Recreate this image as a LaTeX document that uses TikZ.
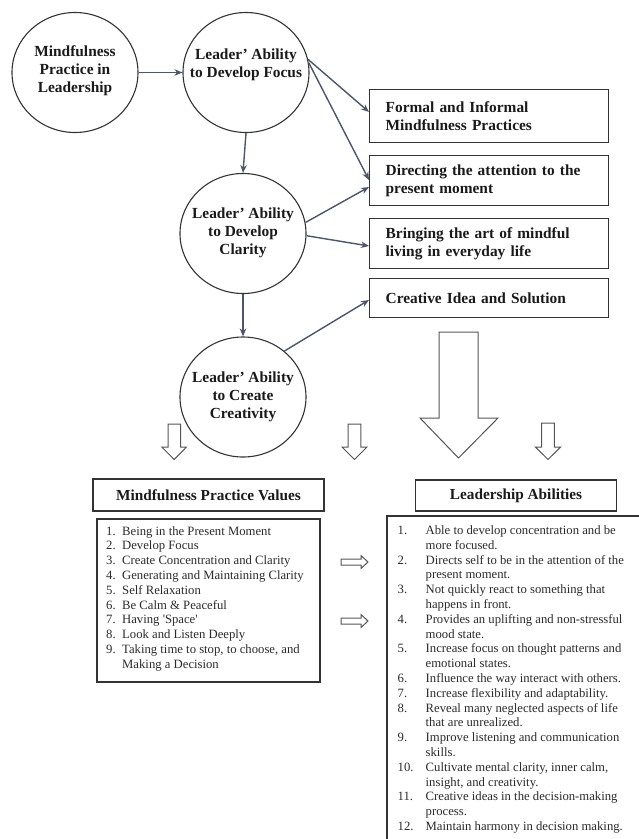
\documentclass[tikz,border=0pt]{standalone}
\usepackage{fontspec}
\setmainfont{Liberation Serif}
\usetikzlibrary{arrows.meta,shapes.geometric,calc}

\definecolor{linkc}{HTML}{4B566B}
\definecolor{edgec}{HTML}{333333}
\definecolor{blockc}{HTML}{555555}
\definecolor{txtc}{HTML}{1A1A1A}
\definecolor{listc}{HTML}{2B2B2B}

\tikzset{
  bubble/.style={ellipse, draw=edgec, line width=1.1pt, minimum width=126pt, minimum height=120pt, inner sep=0pt},
  bubbletext/.style={font=\fontsize{15.4}{18}\selectfont\bfseries, align=center, text=txtc, inner sep=0pt},
  infobox/.style={draw=edgec, line width=1.3pt, anchor=north west, text width=207pt, inner xsep=16pt, inner ysep=0pt,
    align=left, font=\fontsize{15.4}{17.7}\selectfont\bfseries, text=txtc},
  titlebox/.style={draw=edgec, line width=1.3pt, inner sep=0pt, font=\fontsize{15.3}{18}\selectfont\bfseries, text=txtc},
  listbox/.style={draw=edgec, line width=1.1pt},
  listtext/.style={anchor=base west, inner sep=0pt, text=listc, font=\fontsize{12.7}{14.8}\selectfont},
  link/.style={draw=linkc, line width=1.4pt, -{Stealth[length=8pt,width=6.5pt]}},
  blockarrow/.style={draw=blockc, line width=1pt, fill=white, line join=miter},
}

\begin{document}
\begin{tikzpicture}[x=1pt, y=-1pt]
\useasboundingbox (0,0) rectangle (639,839);
\fill[white] (0,0) rectangle (639,839);

% circles
\node[bubble] (c1) at (75,72.5) {};
\node[bubbletext] (c1t) at (75,71) {Mindfulness\\Practice in\\Leadership};
\node[bubble] (c2) at (246,72.5) {};
\node[bubbletext] (c2t) at (246,65) {Leader' Ability\\to Develop Focus};
\node[bubble] (c3) at (243,233.5) {};
\node[bubbletext] (c3t) at (243,233) {Leader' Ability\\to Develop\\Clarity};
\node[bubble] (c4) at (243,397) {};
\node[bubbletext] (c4t) at (243,397) {Leader' Ability\\to Create\\Creativity};

% right boxes
\node[infobox, minimum height=53pt] (b1) at (369,89) {Formal and Informal\\Mindfulness Practices};
\node[infobox, minimum height=50pt] (b2) at (369,155) {Directing the attention to the\\present moment};
\node[infobox, minimum height=50pt] (b3) at (369,218) {Bringing the art of mindful\\living in everyday life};
\node[infobox, minimum height=39pt] (b4) at (369,278) {Creative Idea and Solution};

% connectors
\draw[link] (c1.east) -- (c2.west);
\draw[link] (c2.south) -- (c3.north);
\draw[link] (c3.south) -- (c4.north);
\draw[link] (c2.12) -- (b1.west |- 0,112);
\draw[link] (c2.9) -- (b2.west |- 0,180);
\draw[link] (c3.10) -- (b2.west |- 0,187);
\draw[link] (c3.-2) -- (b3.west |- 0,246);
\draw[link] (c4.48) -- (b4.west |- 0,300);

% block arrows
\draw[blockarrow] (439,332) -- (478,332) -- (478,418) -- (498,418) -- (458.5,458) -- (420,418) -- (439,418) -- cycle;
\draw[blockarrow] (168,424) -- (180.5,424) -- (180.5,447) -- (186.5,447) -- (174.2,459.5) -- (161.8,447) -- (168,447) -- cycle;
\draw[blockarrow] (348.2,424) -- (360.8,424) -- (360.8,447) -- (367,447) -- (354.5,459.5) -- (342,447) -- (348.2,447) -- cycle;
\draw[blockarrow] (541.7,423) -- (554.3,423) -- (554.3,447) -- (560.6,447) -- (548,459.5) -- (535.4,447) -- (541.7,447) -- cycle;
\draw[blockarrow] (341,559) -- (361,559) -- (361,555.5) -- (368,562) -- (361,568.5) -- (361,565) -- (341,565) -- cycle;
\draw[blockarrow] (341,618) -- (361,618) -- (361,614.5) -- (368,621) -- (361,627.5) -- (361,624) -- (341,624) -- cycle;

% title boxes
\node[titlebox, minimum width=231pt, minimum height=32pt] (vt) at (208.5,495) {Mindfulness Practice Values};
\node[titlebox, minimum width=201pt, minimum height=31pt] (lt) at (516,495.5) {Leadership Abilities};

% list boxes
\draw[listbox] (97,519) rectangle (320,682);
\begin{scope}
\clip (0,0) rectangle (639,839);
\draw[listbox] (387,516) rectangle (645,845);
\end{scope}

\node[listtext] (vl) at (106,535) {\begin{tabular}[t]{@{}p{16pt}@{}l@{}}
1. & Being in the Present Moment\\
2. & Develop Focus\\
3. & Create Concentration and Clarity\\
4. & Generating and Maintaining Clarity\\
5. & Self Relaxation\\
6. & Be Calm \& Peaceful\\
7. & Having \textquotesingle Space\textquotesingle\\
8. & Look and Listen Deeply\\
9. & Taking time to stop, to choose, and\\
   & Making a Decision
\end{tabular}};

\node[listtext] (ll) at (397.5,534.5) {\begin{tabular}[t]{@{}p{28pt}@{}l@{}}
1. & Able to develop concentration and be\\
   & more focused.\\
2. & Directs self to be in the attention of the\\
   & present moment.\\
3. & Not quickly react to something that\\
   & happens in front.\\
4. & Provides an uplifting and non-stressful\\
   & mood state.\\
5. & Increase focus on thought patterns and\\
   & emotional states.\\
6. & Influence the way interact with others.\\
7. & Increase flexibility and adaptability.\\
8. & Reveal many neglected aspects of life\\
   & that are unrealized.\\
9. & Improve listening and communication\\
   & skills.\\
10. & Cultivate mental clarity, inner calm,\\
   & insight, and creativity.\\
11. & Creative ideas in the decision-making\\
   & process.\\
12. & Maintain harmony in decision making.
\end{tabular}};
\end{tikzpicture}
\end{document}
